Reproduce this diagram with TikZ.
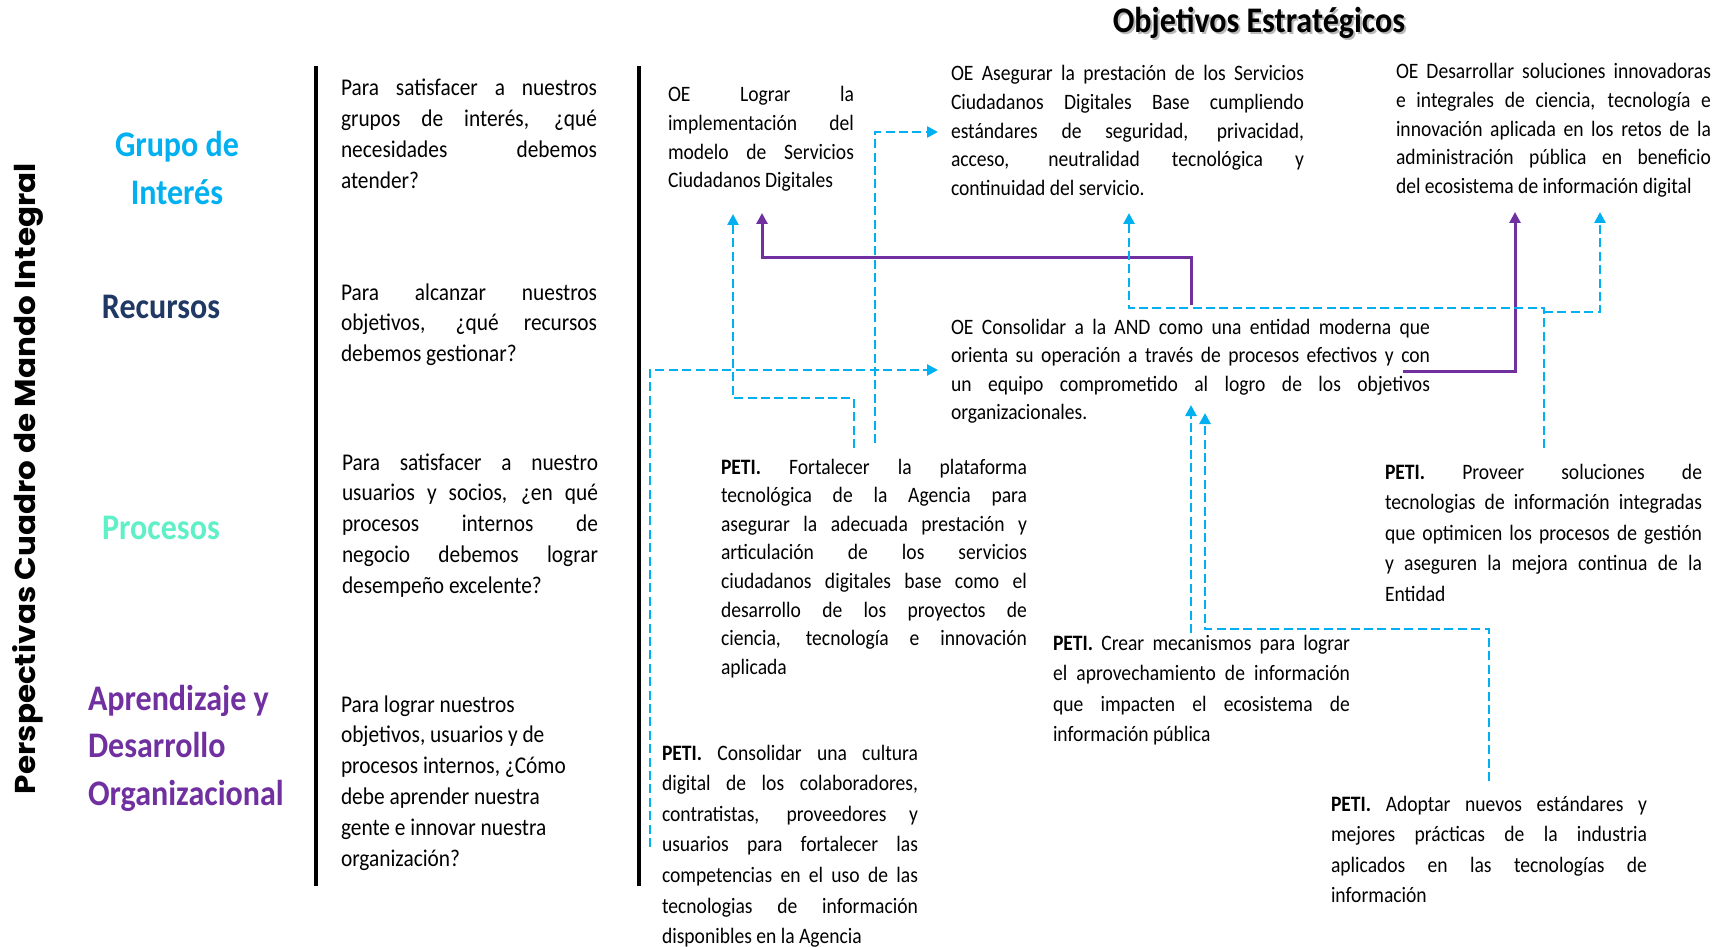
\documentclass[tikz,border=0pt]{standalone}
\usepackage{graphicx}
\usepackage{fontspec}
\setmainfont{Carlito}[FakeStretch=0.89]
\newfontfamily\vertfont{Poppins}
\usetikzlibrary{arrows.meta}
\definecolor{oecyan}{HTML}{00B0F0}
\definecolor{oepurple}{HTML}{7030A0}
\definecolor{oenavy}{HTML}{1F3864}
\definecolor{oeaqua}{RGB}{95,240,200}
\newlength\jw
\newcommand\jline[1]{\hbox to \jw{#1}}
\newcommand\lline[1]{\hbox{#1}}
\newcommand\cenline[1]{\hbox to \jw{\hfil#1\hfil}}
\tikzset{
  txt/.style={anchor=base west, inner sep=0pt, outer sep=0pt, font=\fontsize{11}{14.3}\selectfont, execute at begin node={\setlength{\jw}{#1}}},
  txtw/.style={anchor=base west, inner sep=0pt, outer sep=0pt, font=\fontsize{11}{15.3}\selectfont, execute at begin node={\setlength{\jw}{#1}}},
  qtxt/.style={anchor=base west, inner sep=0pt, outer sep=0pt, font=\fontsize{12}{15.4}\selectfont, execute at begin node={\setlength{\jw}{#1}}},
  lab/.style={inner sep=0pt, outer sep=0pt, font=\fontsize{18}{23}\selectfont\bfseries},
  dlink/.style={draw=oecyan, line width=1.3pt, dash pattern=on 4.5pt off 2.2pt, -{Triangle[length=5.5pt,width=5.5pt]}},
  plink/.style={draw=oepurple, line width=1.5pt, -{Triangle[length=5.5pt,width=5.5pt]}},
  sepline/.style={line width=1.6pt, black}
}
\begin{document}
\begin{tikzpicture}[x=0.5pt,y=-0.5pt]
\useasboundingbox (0,0) rectangle (1726,947);
\fill[white] (0,0) rectangle (1726,947);

% vertical title
\node[rotate=90, anchor=base, inner sep=0pt] (persp) at (35,478.5)
  {\resizebox{315.5pt}{11.5pt}{\vertfont\bfseries Perspectivas Cuadro de Mando Integral}};

% separators
\draw[sepline] (316,66) -- (316,886);
\draw[sepline] (639,66) -- (639,886);

% title
\node[lab, anchor=base, text=gray!55] (titsh) at (1261,35) {Objetivos Estratégicos};
\node[lab, anchor=base] (title) at (1259,33) {Objetivos Estratégicos};

% perspective labels
\node[lab, anchor=base, text=oecyan, font=\fontsize{18}{24}\selectfont\bfseries, execute at begin node={\setlength{\jw}{100pt}}] (gi) at (177,157) {\vtop{\cenline{Grupo de}\cenline{Interés}}};
\node[lab, anchor=base, text=oenavy] (rec) at (161,318) {Recursos};
\node[lab, anchor=base, text=oeaqua] (pro) at (161,539) {Procesos};
\node[lab, anchor=base west, text=oepurple, font=\fontsize{18}{23.75}\selectfont\bfseries] (apr) at (88,710) {\vtop{\lline{Aprendizaje y}\lline{Desarrollo}\lline{Organizacional}}};

% questions
\node[qtxt=128pt] (q1) at (341,96) {\vtop{\jline{Para satisfacer a nuestros}\jline{grupos de interés, ¿qué}\jline{necesidades debemos}\lline{atender?}}};
\node[qtxt=128pt] (q2) at (341,300) {\vtop{\jline{Para alcanzar nuestros}\jline{objetivos, ¿qué recursos}\lline{debemos gestionar?}}};
\node[qtxt=128pt] (q3) at (342,470) {\vtop{\jline{Para satisfacer a nuestro}\jline{usuarios y socios, ¿en qué}\jline{procesos internos de}\jline{negocio debemos lograr}\lline{desempeño excelente?}}};
\node[qtxt=128pt] (q4) at (341,712) {\vtop{\lline{Para lograr nuestros}\lline{objetivos, usuarios y de}\lline{procesos internos, ¿Cómo}\lline{debe aprender nuestra}\lline{gente e innovar nuestra}\lline{organización?}}};

% strategic objectives
\node[txt=93pt] (ol) at (668,102) {\vtop{\jline{OE Lograr la}\jline{implementación del}\jline{modelo de Servicios}\lline{Ciudadanos Digitales}}};
\node[txt=176.5pt] (oa) at (951,81) {\vtop{\jline{OE Asegurar la prestación de los Servicios}\jline{Ciudadanos Digitales Base cumpliendo}\jline{estándares de seguridad, privacidad,}\jline{acceso, neutralidad tecnológica y}\lline{continuidad del servicio.}}};
\node[txt=157.5pt] (od) at (1396,79) {\vtop{\jline{OE Desarrollar soluciones innovadoras}\jline{e integrales de ciencia, tecnología e}\jline{innovación aplicada en los retos de la}\jline{administración pública en beneficio}\lline{del ecosistema de información digital}}};
\node[txt=239.5pt] (oc) at (951,334) {\vtop{\jline{OE Consolidar a la AND como una entidad moderna que}\jline{orienta su operación a través de procesos efectivos y con}\jline{un equipo comprometido al logro de los objetivos}\lline{organizacionales.}}};

% PETI
\node[txt=153pt] (pf) at (721,474) {\vtop{\jline{\textbf{PETI.} Fortalecer la plataforma}\jline{tecnológica de la Agencia para}\jline{asegurar la adecuada prestación y}\jline{articulación de los servicios}\jline{ciudadanos digitales base como el}\jline{desarrollo de los proyectos de}\jline{ciencia, tecnología e innovación}\lline{aplicada}}};
\node[txtw=128pt] (pc) at (662,760) {\vtop{\jline{\textbf{PETI.} Consolidar una cultura}\jline{digital de los colaboradores,}\jline{contratistas, proveedores y}\jline{usuarios para fortalecer las}\jline{competencias en el uso de las}\jline{tecnologias de información}\lline{disponibles en la Agencia}}};
\node[txtw=148.5pt] (pcr) at (1053,650) {\vtop{\jline{\textbf{PETI.} Crear mecanismos para lograr}\jline{el aprovechamiento de información}\jline{que impacten el ecosistema de}\lline{información pública}}};
\node[txtw=158.5pt] (pp) at (1385,479) {\vtop{\jline{\textbf{PETI.} Proveer soluciones de}\jline{tecnologias de información integradas}\jline{que optimicen los procesos de gestión}\jline{y aseguren la mejora continua de la}\lline{Entidad}}};
\node[txtw=158pt] (pa) at (1331,811) {\vtop{\jline{\textbf{PETI.} Adoptar nuevos estándares y}\jline{mejores prácticas de la industria}\jline{aplicados en las tecnologías de}\lline{información}}};

% connector coordinates
\coordinate (c1s) at (854,448); \coordinate (c1b) at (733,398); \coordinate (c1e) at (733,214);
\coordinate (c2s) at (875,443); \coordinate (c2e) at (938,132);
\coordinate (c3s) at (650,847); \coordinate (c3e) at (938,370);
\coordinate (c4s) at (1544,448); \coordinate (c4b) at (1544,308); \coordinate (c4e) at (1129,213);
\coordinate (c5s) at (1544,312); \coordinate (c5e) at (1600,212);
\coordinate (c6s) at (1191,633); \coordinate (c6e) at (1191,405);
\coordinate (c7s) at (1489,781); \coordinate (c7b) at (1489,629); \coordinate (c7e) at (1205,413);
\coordinate (p1s) at (1191,305); \coordinate (p1b) at (1191,257); \coordinate (p1e) at (762,213);
\coordinate (p2s) at (1403,371); \coordinate (p2e) at (1515,212);

% purple connectors
\draw[plink] (p1s) -- (p1b) -| (p1e);
\draw[plink] (p2s) -| (p2e);

% cyan dashed connectors
\draw[dlink] (c1s) |- (c1b) -- (c1e);
\draw[dlink] (c2s) |- (c2e);
\draw[dlink] (c3s) |- (c3e);
\draw[dlink] (c4s) -- (c4b) -| (c4e);
\draw[dlink] (c5s) -| (c5e);
\draw[dlink] (c6s) -- (c6e);
\draw[dlink] (c7s) -- (c7b) -| (c7e);
\end{tikzpicture}
\end{document}
